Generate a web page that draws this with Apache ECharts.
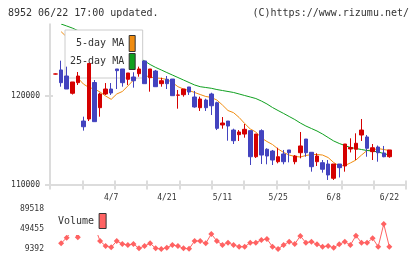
<!DOCTYPE html>
<html>
<head>
<meta charset="utf-8">
<script src="https://cdn.jsdelivr.net/npm/echarts@6/dist/echarts.min.js"></script>
<style>
  html, body { margin: 0; padding: 0; background: #fff; }
  #chart { width: 420px; height: 259px; }
</style>
</head>
<body>
<div id="chart"></div>
<script>
// trading days shown on the chart (2020)
const dates = ['3/24', '3/25', '3/26', '3/27', '3/30', '3/31',
  '4/1', '4/2', '4/3', '4/6', '4/7', '4/8', '4/9', '4/10', '4/13', '4/14', '4/15', '4/16', '4/17', '4/20',
  '4/21', '4/22', '4/23', '4/24', '4/27', '4/28', '4/30',
  '5/1', '5/7', '5/8', '5/11', '5/12', '5/13', '5/14', '5/15', '5/18', '5/19', '5/20', '5/21', '5/22',
  '5/25', '5/26', '5/27', '5/28', '5/29',
  '6/1', '6/2', '6/3', '6/4', '6/5', '6/8', '6/9', '6/10', '6/11', '6/12', '6/15', '6/16', '6/17', '6/18', '6/19', '6/22']

const opens = [122420, 121440, 120730, 121520, 122190, 116490, 123600, 117060, 120170, 120730,
  120280, 122790, 121440, 122530, 121660, 122980, 121330, 122980, 120990, 121660,
  121330, 119980, 120060, 120730, 120390, 118710, 119610, 118630, 118850, 116310,
  116910, 116570, 114920, 115900, 116200, 113120, 115670, 113310, 113200, 112750,
  113120, 112560, 113570, 113200, 114330, 113570, 112000, 113200, 111710, 111070,
  112300, 111890, 114550, 114160, 114630, 116120, 114070, 114130, 113570, 113120, 113880]
const closes = [122410, 122870, 122190, 120250, 121440, 117130, 117360, 121460, 118630, 120170,
  120730, 122980, 122980, 121820, 122080, 122450, 123880, 122000, 122750, 121330,
  121820, 121850, 120030, 120090, 120960, 119830, 118630, 119490, 120170, 119190,
  116690, 117130, 116120, 115600, 115670, 116050, 113120, 116050, 113960, 113760,
  112560, 113430, 113880, 112560, 113570, 115110, 113620, 112560, 112450, 112300,
  110700, 112300, 112080, 113990, 113960, 115560, 115340, 113690, 114210, 113540, 113120]
const lows = [122360, 120990, 120730, 120110, 121180, 116050, 117130, 117060, 117620, 120060,
  120060, 120730, 120990, 121180, 120880, 122110, 121330, 120430, 120990, 120990,
  120730, 119980, 118520, 119870, 120060, 118630, 118260, 118260, 117810, 116120,
  116270, 114920, 114550, 114890, 115260, 112190, 112980, 112300, 112270, 112190,
  112380, 112270, 112490, 112270, 112940, 113120, 111440, 112080, 111330, 110510,
  110510, 110790, 111440, 113600, 112750, 114890, 113120, 112750, 112560, 113060, 113010]
const highs = [122470, 123910, 123240, 121520, 122640, 117620, 123600, 121740, 120310, 121400,
  121400, 122980, 122980, 122530, 122610, 123240, 123880, 122980, 122870, 122000,
  122190, 121850, 120620, 120730, 120960, 120510, 119870, 119640, 120310, 119300,
  117580, 117130, 116270, 116120, 116800, 116050, 115670, 116200, 114070, 113880,
  114130, 113880, 113880, 113310, 115900, 115110, 113620, 113510, 112750, 112750,
  112300, 112300, 114550, 115190, 115750, 117360, 115560, 114550, 114380, 114330, 113880]

const ma5 = [null, 127170, 126570, 124210, 121970, 121290, 120900, 120730, 120390, 119940,
  119570, 120170, 120450, 121070, 121740, 122190, 122250, 122080, 121970, 121930,
  121800, 121460, 120990, 120730, 120560, 120340, 120110, 119890, 119780, 119490,
  118930, 118310, 118070, 117530, 116850, 116240, 115900, 115230, 114830, 114490,
  113990, 113600, 113310, 113150, 113090, 113260, 113370, 113370, 113310, 113030,
  112470, 112080, 112130, 112420, 112750, 113310, 113820, 113880, 114040, 113930, 113820]
const ma25 = [null, 128030, 127810, 127580, 127300, 127020, 126740, 126460, 126180, 125900,
  125620, 125340, 125060, 124780, 124490, 124210, 123880, 123480, 123150, 122870,
  122580, 122300, 122020, 121740, 121460, 121180, 120990, 120900, 120810, 120670,
  120560, 120450, 120340, 120170, 120000, 119830, 119660, 119380, 119050, 118650,
  118310, 117980, 117640, 117300, 116910, 116570, 116290, 116010, 115670, 115280,
  114890, 114610, 114380, 114160, 114040, 113930, 113820, 113760, 113650, 113480, 113310]
const volumes = [null, 20810, 32030, 47450, 32830, 60000, 89518, 55000, 25420, 15400,
  12800, 25420, 19410, 17400, 19410, 10790, 15400, 20810, 10790, 9392,
  12000, 17400, 15400, 10790, 9800, 25420, 25420, 20810, 39440, 25420,
  17400, 22010, 17400, 14000, 14000, 22010, 22010, 27420, 29420, 14000,
  9600, 17400, 24020, 19410, 35430, 22010, 24020, 18810, 14000, 15400,
  12000, 18810, 24020, 17400, 36030, 22010, 22010, 30830, 14000, 59470, 14000]

const priceTicks = [110000, 120000]
const volumeTicks = [9392, 49455, 89518]
const shownDates = ['4/7', '4/21', '5/11', '5/25', '6/8', '6/22']

const MONO = 'DejaVu Sans Mono'
const GRAY = '#dcdcdc'
const BLUE = '#4343bf'
const RED = '#d50000'
const ORANGE = '#f08c10'
const GREEN = '#10a020'
const PINK = '#ff6262'

// one empty slot before the first day and three after the last
const categories = [''].concat(dates, ['', '', ''])
const pad = arr => [null].concat(arr)
const candles = opens.map((o, i) => [i + 1, o, closes[i], lows[i], highs[i]])

const labelStyle = { fontFamily: MONO, fontSize: 8, color: '#333' }
const plain = v => String(v)

const chart = echarts.init(document.getElementById('chart'))
chart.setOption({
  animation: false,
  title: [
    { text: '8952 06/22 17:00 updated.', left: 8, top: 8, padding: 0,
      textStyle: { fontFamily: MONO, fontSize: 10, fontWeight: 'normal', color: '#333' } },
    { text: '(C)https://www.rizumu.net/', right: 11, top: 8, padding: 0,
      textStyle: { fontFamily: MONO, fontSize: 10, fontWeight: 'normal', color: '#333' } }
  ],
  legend: [
    {
      data: ['5-day MA', '25-day MA'],
      orient: 'vertical',
      align: 'right',
      left: 65,
      top: 30,
      padding: [5, 7, 8, 5],
      itemGap: 1,
      itemWidth: 6,
      itemHeight: 16,
      icon: 'rect',
      selectedMode: false,
      backgroundColor: '#fff',
      borderColor: '#ccc',
      borderWidth: 1,
      z: 3,
      formatter: name => name.padStart(9, ' '),
      itemStyle: { borderColor: '#333', borderWidth: 1 },
      textStyle: { fontFamily: MONO, fontSize: 10, color: '#333' }
    },
    {
      // white box also hides the tallest volume points, as in the original
      data: ['Volume'],
      orient: 'vertical',
      align: 'right',
      left: 56,
      top: 203,
      padding: [10, 4, 6, 2],
      itemWidth: 7,
      itemHeight: 15,
      icon: 'rect',
      selectedMode: false,
      backgroundColor: '#fff',
      itemStyle: { borderColor: '#333', borderWidth: 1 },
      textStyle: { fontFamily: MONO, fontSize: 10, color: '#333' }
    }
  ],
  grid: [
    { left: 50, right: 14, top: 24.3, bottom: 74.5 },
    { left: 50, right: 14, top: 209, bottom: 10 }
  ],
  xAxis: [
    {
      type: 'category',
      gridIndex: 0,
      data: categories,
      boundaryGap: false,
      axisLine: { lineStyle: { color: GRAY, width: 2 } },
      axisTick: { show: false },
      axisLabel: Object.assign({
        interval: (i, v) => shownDates.indexOf(v) >= 0,
        margin: 9
      }, labelStyle),
      splitLine: { show: false }
    },
    // tick marks below and above the date axis
    {
      type: 'value', gridIndex: 0, position: 'bottom', min: 0, max: 11, interval: 1,
      axisLine: { show: false },
      axisTick: { length: 5, lineStyle: { color: GRAY, width: 2 } },
      axisLabel: { show: false },
      splitLine: { show: false }
    },
    {
      type: 'value', gridIndex: 0, position: 'bottom', min: 0, max: 11, interval: 1,
      axisLine: { show: false },
      axisTick: { inside: true, length: 4, lineStyle: { color: GRAY, width: 2 } },
      axisLabel: { show: false },
      splitLine: { show: false }
    },
    {
      type: 'category',
      gridIndex: 1,
      data: categories,
      boundaryGap: false,
      show: false
    }
  ],
  yAxis: [
    {
      type: 'value',
      gridIndex: 0,
      position: 'left',
      min: 110000,
      max: 128000,
      axisLine: { show: true, lineStyle: { color: GRAY, width: 2 } },
      axisTick: { show: true, length: 5, customValues: priceTicks, lineStyle: { color: GRAY, width: 2 } },
      axisLabel: Object.assign({ customValues: priceTicks, margin: 10, formatter: plain }, labelStyle),
      splitLine: { show: false }
    },
    {
      type: 'value',
      gridIndex: 0,
      position: 'left',
      min: 110000,
      max: 128000,
      axisLine: { show: false },
      axisTick: { show: true, inside: true, length: 3, customValues: priceTicks, lineStyle: { color: GRAY, width: 2 } },
      axisLabel: { show: false },
      splitLine: { show: false }
    },
    {
      type: 'value',
      gridIndex: 1,
      position: 'left',
      min: volumeTicks[0],
      max: volumeTicks[volumeTicks.length - 1],
      axisLine: { show: false },
      axisTick: { show: false },
      axisLabel: Object.assign({ customValues: volumeTicks, margin: 6, formatter: plain }, labelStyle),
      splitLine: { show: false }
    }
  ],
  series: [
    {
      name: '5-day MA',
      type: 'line',
      xAxisIndex: 0,
      yAxisIndex: 0,
      data: pad(ma5),
      symbol: 'none',
      color: ORANGE,
      lineStyle: { color: ORANGE, width: 1 },
      z: 2
    },
    {
      name: '25-day MA',
      type: 'line',
      xAxisIndex: 0,
      yAxisIndex: 0,
      data: pad(ma25),
      symbol: 'none',
      color: GREEN,
      lineStyle: { color: GREEN, width: 1 },
      z: 2
    },
    {
      name: 'price',
      type: 'candlestick',
      xAxisIndex: 0,
      yAxisIndex: 0,
      data: candles,
      encode: { x: 0, y: [1, 2, 3, 4] },
      barWidth: 4,
      z: 5,
      itemStyle: {
        color: BLUE,
        color0: RED,
        borderColor: BLUE,
        borderColor0: RED,
        borderWidth: 1
      }
    },
    {
      name: 'Volume',
      type: 'line',
      xAxisIndex: 3,
      yAxisIndex: 2,
      data: pad(volumes),
      symbol: 'diamond',
      symbolSize: 6,
      showAllSymbol: true,
      color: PINK,
      itemStyle: { color: PINK },
      lineStyle: { color: PINK, width: 1 },
      z: 2
    }
  ]
})
</script>
</body>
</html>
